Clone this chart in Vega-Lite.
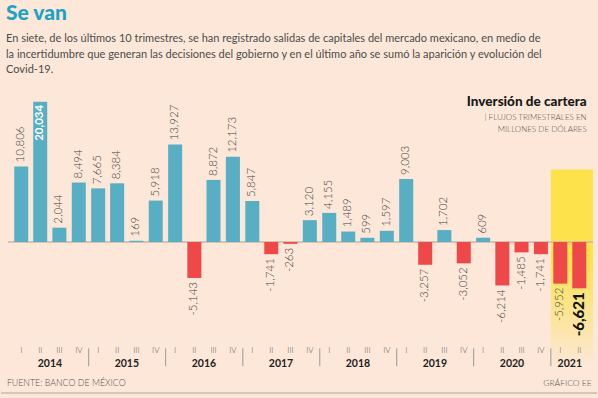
{
  "$schema": "https://vega.github.io/schema/vega-lite/v6.json",
  "width": 598,
  "height": 398,
  "autosize": {"type": "fit", "contains": "padding"},
  "padding": {"left": 0, "right": 0, "top": 3, "bottom": 0},
  "background": "#fce7d8",
  "config": {
    "view": {"stroke": null},
    "axis": {"disable": true},
    "text": {"font": "Lato"},
    "locale": {"number": {"decimal": ".", "thousands": ",", "grouping": [3], "currency": ["$", ""], "minus": "-"}}
  },
  "title": {
    "text": "Se van",
    "subtitle": [
      "En siete, de los últimos 10 trimestres,  se han registrado salidas de capitales del mercado mexicano, en medio de",
      "la incertidumbre que generan las decisiones del gobierno y en el último año se sumó la aparición y evolución del",
      "Covid-19."
    ],
    "anchor": "start",
    "font": "Lato",
    "fontSize": 21,
    "fontWeight": 900,
    "color": "#1ba3c6",
    "subtitleFont": "Lato",
    "subtitleFontSize": 11,
    "subtitleFontWeight": 400,
    "subtitleColor": "#4d4d4d",
    "subtitleLineHeight": 15.5,
    "subtitlePadding": 9,
    "offset": 4,
    "dx": 6
  },
  "data": {
    "format": {"parse": {"fecha": "utc:'%Y-%m-%d'"}},
    "values": [
      {"fecha": "2014-02-15", "anio": 2014, "trim": "I", "valor": 10806},
      {"fecha": "2014-05-16", "anio": 2014, "trim": "II", "valor": 20034},
      {"fecha": "2014-08-15", "anio": 2014, "trim": "III", "valor": 2044},
      {"fecha": "2014-11-15", "anio": 2014, "trim": "IV", "valor": 8494},
      {"fecha": "2015-02-15", "anio": 2015, "trim": "I", "valor": 7665},
      {"fecha": "2015-05-16", "anio": 2015, "trim": "II", "valor": 8384},
      {"fecha": "2015-08-15", "anio": 2015, "trim": "III", "valor": 169},
      {"fecha": "2015-11-15", "anio": 2015, "trim": "IV", "valor": 5918},
      {"fecha": "2016-02-15", "anio": 2016, "trim": "I", "valor": 13927},
      {"fecha": "2016-05-16", "anio": 2016, "trim": "II", "valor": -5143},
      {"fecha": "2016-08-15", "anio": 2016, "trim": "III", "valor": 8872},
      {"fecha": "2016-11-15", "anio": 2016, "trim": "IV", "valor": 12173},
      {"fecha": "2017-02-15", "anio": 2017, "trim": "I", "valor": 5847},
      {"fecha": "2017-05-16", "anio": 2017, "trim": "II", "valor": -1741},
      {"fecha": "2017-08-15", "anio": 2017, "trim": "III", "valor": -263},
      {"fecha": "2017-11-15", "anio": 2017, "trim": "IV", "valor": 3120},
      {"fecha": "2018-02-15", "anio": 2018, "trim": "I", "valor": 4155},
      {"fecha": "2018-05-16", "anio": 2018, "trim": "II", "valor": 1489},
      {"fecha": "2018-08-15", "anio": 2018, "trim": "III", "valor": 599},
      {"fecha": "2018-11-15", "anio": 2018, "trim": "IV", "valor": 1597},
      {"fecha": "2019-02-15", "anio": 2019, "trim": "I", "valor": 9003},
      {"fecha": "2019-05-16", "anio": 2019, "trim": "II", "valor": -3257},
      {"fecha": "2019-08-15", "anio": 2019, "trim": "III", "valor": 1702},
      {"fecha": "2019-11-15", "anio": 2019, "trim": "IV", "valor": -3052},
      {"fecha": "2020-02-15", "anio": 2020, "trim": "I", "valor": 609},
      {"fecha": "2020-05-16", "anio": 2020, "trim": "II", "valor": -6214},
      {"fecha": "2020-08-15", "anio": 2020, "trim": "III", "valor": -1485},
      {"fecha": "2020-11-15", "anio": 2020, "trim": "IV", "valor": -1741},
      {"fecha": "2021-02-15", "anio": 2021, "trim": "I", "valor": -5952},
      {"fecha": "2021-05-16", "anio": 2021, "trim": "II", "valor": -6621}
    ]
  },
  "layer": [
    {
      "data": {"values": [{}]},
      "mark": {
        "type": "rect",
        "color": {
          "gradient": "linear", "x1": 0, "y1": 0, "x2": 0, "y2": 1,
          "stops": [
            {"offset": 0, "color": "#fde24b"},
            {"offset": 0.45, "color": "#fde24b"},
            {"offset": 1, "color": "rgba(253,226,75,0)"}
          ]
        }
      },
      "encoding": {
        "x": {"datum": {"year": 2021, "month": 1, "date": 1, "utc": true}},
        "x2": {"datum": {"year": 2021, "month": 7, "date": 20, "utc": true}},
        "y": {"datum": 10370},
        "y2": {"datum": -17610}
      }
    },
    {
      "data": {"values": [{}]},
      "mark": {"type": "rule", "color": "#c8b8a9", "strokeWidth": 1.5},
      "encoding": {
        "x": {"datum": {"year": 2013, "month": 12, "date": 14, "utc": true}},
        "x2": {"datum": {"year": 2021, "month": 7, "date": 20, "utc": true}},
        "y": {"datum": 0}
      }
    },
    {
      "mark": {"type": "bar", "width": 14},
      "encoding": {
        "x": {
          "field": "fecha", "type": "temporal",
          "scale": {
            "type": "utc",
            "padding": 0,
            "domain": [
              {"year": 2013, "month": 11, "date": 11, "utc": true},
              {"year": 2021, "month": 8, "date": 8, "utc": true}
            ]
          }
        },
        "y": {
          "field": "valor", "type": "quantitative",
          "scale": {"domain": [-22301, 23295], "nice": false, "zero": false, "padding": 0}
        },
        "y2": {"datum": 0},
        "color": {
          "condition": {"test": "datum.valor >= 0", "value": "#58aec3"},
          "value": "#ee4848"
        }
      }
    },
    {
      "data": {"values": [{}]},
      "mark": {"type": "rule", "color": "#d3c6bb", "strokeWidth": 2},
      "encoding": {"y": {"datum": -21590}}
    },
    {
      "transform": [{"filter": "datum.valor >= 0 && datum.valor < 20000"}],
      "mark": {"type": "text", "angle": 270, "align": "left", "baseline": "middle", "dx": 4, "fontSize": 11.5, "fontWeight": 300, "color": "#444444"},
      "encoding": {
        "x": {"field": "fecha", "type": "temporal"},
        "y": {"field": "valor", "type": "quantitative"},
        "text": {"field": "valor", "type": "quantitative", "format": ",d"}
      }
    },
    {
      "transform": [{"filter": "datum.valor >= 20000"}],
      "mark": {"type": "text", "angle": 270, "align": "right", "baseline": "middle", "dx": -3, "fontSize": 11.5, "fontWeight": 700, "color": "#ffffff"},
      "encoding": {
        "x": {"field": "fecha", "type": "temporal"},
        "y": {"field": "valor", "type": "quantitative"},
        "text": {"field": "valor", "type": "quantitative", "format": ",d"}
      }
    },
    {
      "transform": [{"filter": "datum.valor < 0 && datum.valor > -6600"}],
      "mark": {"type": "text", "angle": 270, "align": "right", "baseline": "middle", "dx": -4, "fontSize": 11.5, "fontWeight": 300, "color": "#444444"},
      "encoding": {
        "x": {"field": "fecha", "type": "temporal"},
        "y": {"field": "valor", "type": "quantitative"},
        "text": {"field": "valor", "type": "quantitative", "format": ",d"}
      }
    },
    {
      "transform": [{"filter": "datum.valor <= -6600"}],
      "mark": {"type": "text", "angle": 270, "align": "right", "baseline": "middle", "dx": -4, "fontSize": 15, "fontWeight": 900, "color": "#111111"},
      "encoding": {
        "x": {"field": "fecha", "type": "temporal"},
        "y": {"field": "valor", "type": "quantitative"},
        "text": {"field": "valor", "type": "quantitative", "format": ",d"}
      }
    },
    {
      "mark": {"type": "text", "baseline": "middle", "align": "center", "fontSize": 8, "fontWeight": 300, "color": "#555555"},
      "encoding": {
        "x": {"field": "fecha", "type": "temporal"},
        "y": {"datum": -15620},
        "text": {"field": "trim", "type": "nominal"}
      }
    },
    {
      "transform": [{"aggregate": [{"op": "mean", "field": "fecha", "as": "centro"}], "groupby": ["anio"]}],
      "mark": {"type": "text", "baseline": "middle", "align": "center", "fontSize": 10.5, "fontWeight": 700, "color": "#222222"},
      "encoding": {
        "x": {"field": "centro", "type": "temporal"},
        "y": {"datum": -17470},
        "text": {"field": "anio", "type": "nominal"}
      }
    },
    {
      "transform": [{"filter": "datum.trim === 'I' && datum.anio > 2014"}],
      "mark": {"type": "rule", "color": "#9a9a9a", "strokeWidth": 1},
      "encoding": {
        "x": {"field": "fecha", "timeUnit": "utcyear", "type": "temporal"},
        "y": {"datum": -15200},
        "y2": {"datum": -17760}
      }
    },
    {
      "data": {"values": [{"texto": "FUENTE: BANCO DE MÉXICO"}]},
      "mark": {"type": "text", "align": "left", "baseline": "middle", "fontSize": 8.8, "fontWeight": 300, "color": "#555555"},
      "encoding": {
        "x": {"datum": {"year": 2013, "month": 12, "date": 9, "utc": true}},
        "y": {"datum": -20130},
        "text": {"field": "texto"}
      }
    },
    {
      "data": {"values": [{"texto": "GRÁFICO EE"}]},
      "mark": {"type": "text", "align": "right", "baseline": "middle", "fontSize": 8.5, "fontWeight": 300, "color": "#555555"},
      "encoding": {
        "x": {"datum": {"year": 2021, "month": 7, "date": 14, "utc": true}},
        "y": {"datum": -20130},
        "text": {"field": "texto"}
      }
    },
    {
      "data": {"values": [{"texto": "Inversión de cartera"}]},
      "mark": {"type": "text", "align": "right", "baseline": "middle", "fontSize": 13.5, "fontWeight": 900, "color": "#1a1a1a"},
      "encoding": {
        "x": {"datum": {"year": 2021, "month": 6, "date": 20, "utc": true}},
        "y": {"datum": 20030},
        "text": {"field": "texto"}
      }
    },
    {
      "data": {"values": [{"texto": "| FLUJOS TRIMESTRALES EN"}]},
      "mark": {"type": "text", "align": "right", "baseline": "middle", "fontSize": 8, "fontWeight": 300, "color": "#555555"},
      "encoding": {
        "x": {"datum": {"year": 2021, "month": 6, "date": 20, "utc": true}},
        "y": {"datum": 17685},
        "text": {"field": "texto"}
      }
    },
    {
      "data": {"values": [{"texto": "MILLONES DE DÓLARES"}]},
      "mark": {"type": "text", "align": "right", "baseline": "middle", "fontSize": 8, "fontWeight": 300, "color": "#555555"},
      "encoding": {
        "x": {"datum": {"year": 2021, "month": 6, "date": 20, "utc": true}},
        "y": {"datum": 15980},
        "text": {"field": "texto"}
      }
    }
  ]
}
